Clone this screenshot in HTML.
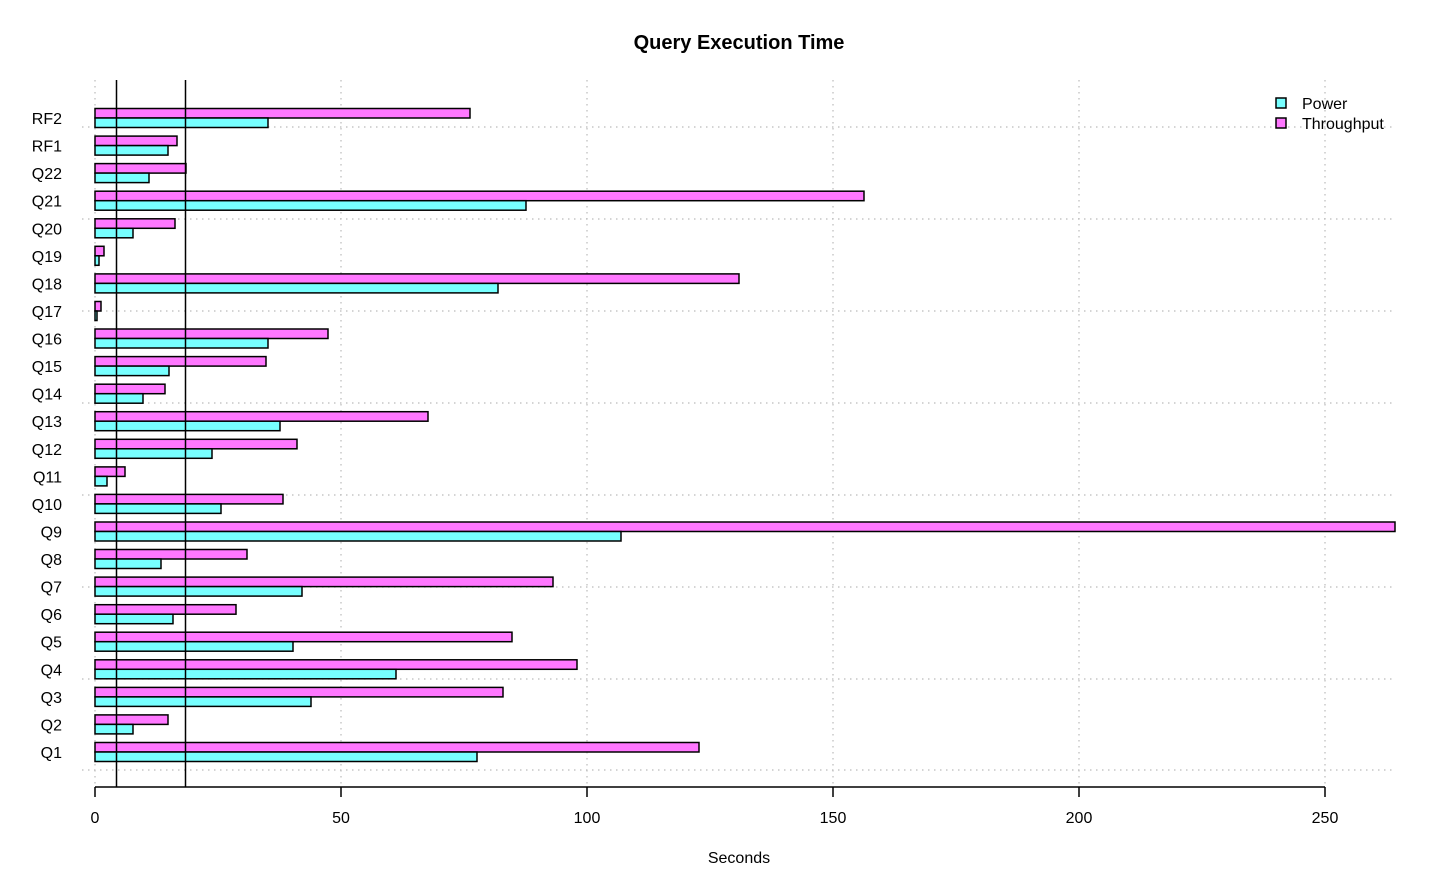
<!DOCTYPE html>
<html><head><meta charset="utf-8"><style>
html,body{margin:0;padding:0;background:#fff;}
svg{display:block;font-family:"Liberation Sans",sans-serif;}
.m{fill:#ff77ff;stroke:#000;stroke-width:1.5}
.c{fill:#77ffff;stroke:#000;stroke-width:1.5}
.g{stroke:#bbb;stroke-width:1.2;stroke-dasharray:1.5,4.5}
.l{font-size:16px;text-anchor:end}
</style></head><body>
<svg width="1437" height="889" viewBox="0 0 1437 889">
<text x="739" y="49" font-size="20" font-weight="bold" text-anchor="middle">Query Execution Time</text>
<g class="g">
<line x1="95" y1="80" x2="95" y2="787"/><line x1="341" y1="80" x2="341" y2="787"/><line x1="587" y1="80" x2="587" y2="787"/><line x1="833" y1="80" x2="833" y2="787"/><line x1="1079" y1="80" x2="1079" y2="787"/><line x1="1325" y1="80" x2="1325" y2="787"/>
<line x1="82" y1="127" x2="1395" y2="127"/><line x1="82" y1="219" x2="1395" y2="219"/><line x1="82" y1="311" x2="1395" y2="311"/><line x1="82" y1="403" x2="1395" y2="403"/><line x1="82" y1="495" x2="1395" y2="495"/><line x1="82" y1="587" x2="1395" y2="587"/><line x1="82" y1="679" x2="1395" y2="679"/><line x1="82" y1="770" x2="1395" y2="770"/>
</g>
<g>
<g transform="translate(0,752)"><rect class="m" x="95" y="-9.5" width="604" height="9.5"/><rect class="c" x="95" y="0" width="382" height="9.5"/><text class="l" x="62" y="6">Q1</text></g>
<g transform="translate(0,724.4)"><rect class="m" x="95" y="-9.5" width="73" height="9.5"/><rect class="c" x="95" y="0" width="38" height="9.5"/><text class="l" x="62" y="6">Q2</text></g>
<g transform="translate(0,696.9)"><rect class="m" x="95" y="-9.5" width="408" height="9.5"/><rect class="c" x="95" y="0" width="216" height="9.5"/><text class="l" x="62" y="6">Q3</text></g>
<g transform="translate(0,669.3)"><rect class="m" x="95" y="-9.5" width="482" height="9.5"/><rect class="c" x="95" y="0" width="301" height="9.5"/><text class="l" x="62" y="6">Q4</text></g>
<g transform="translate(0,641.7)"><rect class="m" x="95" y="-9.5" width="417" height="9.5"/><rect class="c" x="95" y="0" width="198" height="9.5"/><text class="l" x="62" y="6">Q5</text></g>
<g transform="translate(0,614.2)"><rect class="m" x="95" y="-9.5" width="141" height="9.5"/><rect class="c" x="95" y="0" width="78" height="9.5"/><text class="l" x="62" y="6">Q6</text></g>
<g transform="translate(0,586.6)"><rect class="m" x="95" y="-9.5" width="458" height="9.5"/><rect class="c" x="95" y="0" width="207" height="9.5"/><text class="l" x="62" y="6">Q7</text></g>
<g transform="translate(0,559.0)"><rect class="m" x="95" y="-9.5" width="152" height="9.5"/><rect class="c" x="95" y="0" width="66" height="9.5"/><text class="l" x="62" y="6">Q8</text></g>
<g transform="translate(0,531.5)"><rect class="m" x="95" y="-9.5" width="1300" height="9.5"/><rect class="c" x="95" y="0" width="526" height="9.5"/><text class="l" x="62" y="6">Q9</text></g>
<g transform="translate(0,503.9)"><rect class="m" x="95" y="-9.5" width="188" height="9.5"/><rect class="c" x="95" y="0" width="126" height="9.5"/><text class="l" x="62" y="6">Q10</text></g>
<g transform="translate(0,476.4)"><rect class="m" x="95" y="-9.5" width="30" height="9.5"/><rect class="c" x="95" y="0" width="12" height="9.5"/><text class="l" x="62" y="6">Q11</text></g>
<g transform="translate(0,448.8)"><rect class="m" x="95" y="-9.5" width="202" height="9.5"/><rect class="c" x="95" y="0" width="117" height="9.5"/><text class="l" x="62" y="6">Q12</text></g>
<g transform="translate(0,421.2)"><rect class="m" x="95" y="-9.5" width="333" height="9.5"/><rect class="c" x="95" y="0" width="185" height="9.5"/><text class="l" x="62" y="6">Q13</text></g>
<g transform="translate(0,393.7)"><rect class="m" x="95" y="-9.5" width="70" height="9.5"/><rect class="c" x="95" y="0" width="48" height="9.5"/><text class="l" x="62" y="6">Q14</text></g>
<g transform="translate(0,366.1)"><rect class="m" x="95" y="-9.5" width="171" height="9.5"/><rect class="c" x="95" y="0" width="74" height="9.5"/><text class="l" x="62" y="6">Q15</text></g>
<g transform="translate(0,338.5)"><rect class="m" x="95" y="-9.5" width="233" height="9.5"/><rect class="c" x="95" y="0" width="173" height="9.5"/><text class="l" x="62" y="6">Q16</text></g>
<g transform="translate(0,311.0)"><rect class="m" x="95" y="-9.5" width="6" height="9.5"/><rect class="c" x="95" y="0" width="2" height="9.5"/><text class="l" x="62" y="6">Q17</text></g>
<g transform="translate(0,283.4)"><rect class="m" x="95" y="-9.5" width="644" height="9.5"/><rect class="c" x="95" y="0" width="403" height="9.5"/><text class="l" x="62" y="6">Q18</text></g>
<g transform="translate(0,255.8)"><rect class="m" x="95" y="-9.5" width="9" height="9.5"/><rect class="c" x="95" y="0" width="4" height="9.5"/><text class="l" x="62" y="6">Q19</text></g>
<g transform="translate(0,228.3)"><rect class="m" x="95" y="-9.5" width="80" height="9.5"/><rect class="c" x="95" y="0" width="38" height="9.5"/><text class="l" x="62" y="6">Q20</text></g>
<g transform="translate(0,200.7)"><rect class="m" x="95" y="-9.5" width="769" height="9.5"/><rect class="c" x="95" y="0" width="431" height="9.5"/><text class="l" x="62" y="6">Q21</text></g>
<g transform="translate(0,173.1)"><rect class="m" x="95" y="-9.5" width="91" height="9.5"/><rect class="c" x="95" y="0" width="54" height="9.5"/><text class="l" x="62" y="6">Q22</text></g>
<g transform="translate(0,145.6)"><rect class="m" x="95" y="-9.5" width="82" height="9.5"/><rect class="c" x="95" y="0" width="73" height="9.5"/><text class="l" x="62" y="6">RF1</text></g>
<g transform="translate(0,118.0)"><rect class="m" x="95" y="-9.5" width="375" height="9.5"/><rect class="c" x="95" y="0" width="173" height="9.5"/><text class="l" x="62" y="6">RF2</text></g>
</g>
<line x1="116.5" y1="80" x2="116.5" y2="787" stroke="#000" stroke-width="1.5"/>
<line x1="185.5" y1="80" x2="185.5" y2="787" stroke="#000" stroke-width="1.5"/>
<g stroke="#000" stroke-width="1.5">
<line x1="95" y1="787" x2="1325" y2="787"/>
<line x1="95" y1="787" x2="95" y2="797"/><line x1="341" y1="787" x2="341" y2="797"/><line x1="587" y1="787" x2="587" y2="797"/><line x1="833" y1="787" x2="833" y2="797"/><line x1="1079" y1="787" x2="1079" y2="797"/><line x1="1325" y1="787" x2="1325" y2="797"/>
</g>
<g font-size="16" text-anchor="middle">
<text x="95" y="823">0</text><text x="341" y="823">50</text><text x="587" y="823">100</text><text x="833" y="823">150</text><text x="1079" y="823">200</text><text x="1325" y="823">250</text>
<text x="739" y="863">Seconds</text>
</g>
<rect class="c" x="1276" y="98" width="10" height="10"/>
<rect class="m" x="1276" y="118" width="10" height="10"/>
<text x="1302" y="109" font-size="16">Power</text>
<text x="1302" y="129" font-size="16">Throughput</text>
</svg>
</body></html>
